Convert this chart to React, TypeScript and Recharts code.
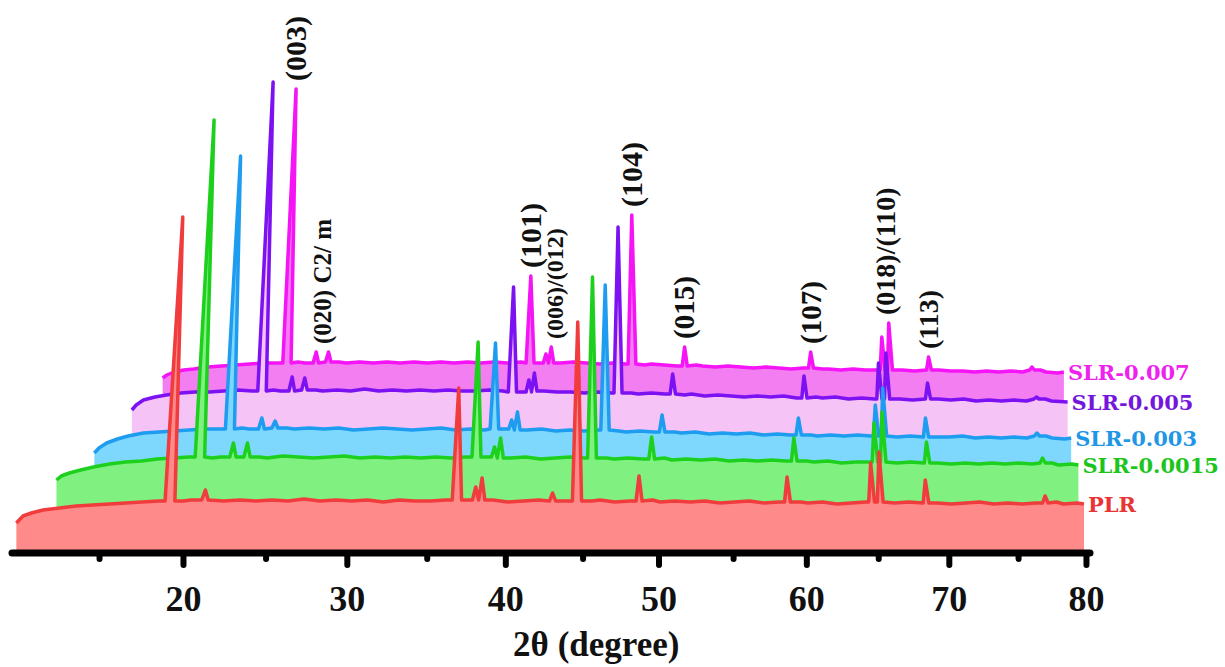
import React from 'react';
import { ComposedChart, Area, XAxis, YAxis, ReferenceDot } from 'recharts';

// ---------------- data (2θ in degrees, intensity in arbitrary units) ----------------
const TICKS_2THETA = [15, 20, 25, 30, 35, 40, 45, 50, 55, 60, 65, 70, 75, 80];
const TICK_LABELS = ['', '20', '', '30', '', '40', '', '50', '', '60', '', '70', '', '80'];
const X_TITLE = '2θ (degree)';

const SERIES_NAMES = ['PLR', 'SLR-0.0015', 'SLR-0.003', 'SLR-0.005', 'SLR-0.007'];

// background traces [2θ, I]
const PLR_BG = [[9.4,-20],[9.8,-13],[10.3,-10],[11,-7],[12,-5],[13,-3],[14,-2],[15,-1],[16,0],[17,1],[18,2],[19.5,2],[20,3],[22,2],[23,3],[24,2],[25,3],[26,2],[27,4],[28,2],[29,3],[30,2],[31,3],[32,1],[33,3],[34,2],[35,2],[36,3],[39,3],[40,1],[41,2],[42,3],[43.5,2],[45.5,2],[46,3],[47,1],[48,2],[49.5,3],[50,1],[51,2],[52,1],[53,2],[54,0],[55,1],[56,2],[57,0],[58,1],[59.5,1],[60,0],[61,1],[62,-1],[63,0],[64,1],[66,0],[67,1],[69,0],[70,-1],[71,0],[72,1],[73,-1],[74,0],[75,-1],[76,0],[77.5,1],[78,-1],[79,0],[79.5,-1]];
const SLR0015_BG = [[9.7,-22],[10,-18],[10.5,-15],[11.2,-12],[12,-9],[13,-6],[14,-4],[15,-3],[16,-1],[17,0],[18,1],[19.5,0],[20,1],[22.5,1],[23,0],[24,2],[25,1],[26,0],[27,1],[28,2],[29,0],[30,1],[31,0],[32,1],[33,0],[34,1],[35,0],[36,1],[37.3,1],[39,0],[40,1],[41,-1],[42,0],[43,1],[44,0],[45.5,0],[46,-1],[47,0],[48,-1],[49.5,0],[50,-2],[51,-1],[52,-2],[53,-1],[54,-3],[55,-2],[56,-3],[57,-2],[58,-3],[59.5,-3],[60,-4],[61,-3],[62,-5],[63,-4],[64,-4],[66,-5],[67,-4],[69,-5],[70,-6],[71,-5],[72,-6],[73,-5],[74,-6],[75,-5],[76,-6],[77.5,-5],[78,-7],[79,-6],[79.5,-7]];
const SLR003_BG = [[9.8,-24],[10.1,-19],[10.6,-14],[11.3,-10],[12,-7],[13,-4],[14,-3],[15,-2],[16,-1],[17,0],[18,0],[19.5,1],[20,0],[22.5,1],[23,0],[24,1],[25,0],[26,1],[27,-1],[28,0],[29,1],[30,0],[31,-1],[32,0],[33,1],[34,-1],[35,0],[36,-1],[37.3,0],[39,-1],[40,0],[41,-2],[42,-1],[43,-2],[44,-1],[45.5,-2],[46,-3],[47,-2],[48,-3],[49.5,-3],[50,-4],[51,-3],[52,-5],[53,-4],[54,-5],[55,-4],[56,-6],[57,-5],[58,-6],[59.5,-6],[60,-7],[61,-6],[62,-7],[63,-6],[64,-7],[66,-8],[67,-7],[69,-8],[70,-8],[71,-7],[72,-9],[73,-8],[74,-9],[75,-8],[76,-9],[77.5,-7],[78,-9],[79,-10],[79.5,-9]];
const SLR005_BG = [[9.6,-19],[9.9,-14],[10.4,-9],[11.2,-6],[12,-4],[13,-2],[14,-1],[15,-1],[16,0],[17,1],[18,0],[19.5,1],[20,0],[22.5,1],[23,0],[24,1],[25,0],[26,2],[27,0],[28,1],[29,0],[30,1],[31,0],[32,1],[33,0],[34,0],[35,1],[36,0],[37.3,-1],[39,0],[40,-1],[41,-1],[42,-2],[43,-1],[44,-2],[45.5,-2],[46,-3],[47,-2],[48,-3],[49.5,-4],[50,-3],[51,-5],[52,-4],[53,-5],[54,-6],[55,-5],[56,-6],[57,-5],[58,-7],[59.5,-6],[60,-7],[61,-6],[62,-8],[63,-7],[64,-8],[66,-8],[67,-9],[69,-8],[70,-9],[71,-8],[72,-10],[73,-9],[74,-10],[75,-9],[76,-10],[77.5,-8],[78,-10],[79.3,-11]];
const SLR007_BG = [[9.8,-15],[10.1,-12],[10.6,-9],[11.3,-7],[12,-6],[13,-4],[14,-3],[15,-2],[16,-1],[17,0],[18,0],[19.5,1],[20,0],[22.5,1],[23,0],[24,1],[25,0],[26,1],[27,0],[28,1],[29,0],[30,1],[31,0],[32,1],[33,0],[34,1],[35,0],[36,1],[37.3,0],[39,0],[40,1],[41,0],[42,-1],[43,0],[44,-1],[45.5,-2],[46,-1],[47,-2],[48,-3],[49.5,-2],[50,-3],[51,-4],[52,-3],[53,-4],[54,-5],[55,-4],[56,-5],[57,-6],[58,-5],[59.5,-6],[60,-6],[61,-7],[62,-6],[63,-7],[64,-7],[66,-7],[67,-8],[69,-7],[70,-8],[71,-8],[72,-9],[73,-8],[74,-9],[75,-8],[76,-9],[77.5,-7],[78,-9],[79,-10],[79.5,-9]];

// reflections [2θ, peak intensity]
const PLR_PEAKS = [[18.7,286],[20.85,13],[36.7,115],[37.9,16],[38.3,25],[42.9,10],[44.5,181],[48.6,27],[58.6,26],[64.4,40],[65.0,51],[68.2,23],[76.7,7]];
const SLR0015_PEAKS = [[18.7,338],[20.8,15],[21.7,15],[36.7,116],[37.9,11],[38.3,20],[44.5,181],[48.6,21],[58.6,20],[64.4,35],[65.0,46],[68.2,16],[76.8,0]];
const SLR003_PEAKS = [[18.7,273],[20.8,11],[21.7,8],[36.7,86],[37.9,9],[38.3,17],[44.5,144],[48.6,14],[58.6,11],[64.4,24],[65.0,41],[68.2,11],[76.8,-4]];
const SLR005_PEAKS = [[18.7,309],[20.8,14],[21.7,13],[36.7,104],[37.9,11],[38.3,18],[44.5,164],[48.6,17],[58.6,15],[64.4,28],[65.0,38],[68.2,8],[76.8,-6]];
const SLR007_PEAKS = [[18.7,274],[20.8,11],[21.7,11],[36.7,87],[37.9,9],[38.3,16],[44.5,148],[48.6,16],[58.6,11],[64.4,26],[65.0,40],[68.2,6],[76.8,-4]];

// hkl annotations [text, 2θ, font size]
const ANNOTATIONS: [string, number, number][] = [
  ['(003)', 18.7, 30],
  ['(020) C2/ m', 21.25, 25],
  ['(101)', 36.7, 30],
  ['(006)/(012)', 38.6, 24],
  ['(104)', 44.5, 30],
  ['(015)', 48.6, 29],
  ['(107)', 58.6, 29],
  ['(018)/(110)', 64.7, 28],
  ['(113)', 68.2, 28],
];

// ---------------- layout / style ----------------
const W = 1225;
const H = 667;
const PLOT_LEFT = 12;
const PLOT_RIGHT = 1090;
const AXIS_Y = 553;
const U_PER_PX = 1 / 15;
const U_MIN = 50 + (PLOT_LEFT - 659) * U_PER_PX;
const U_MAX = 50 + (PLOT_RIGHT - 659) * U_PER_PX;
const LEAN = 1e-4;
const LEAN_U0 = 47.4;

type Map = { a: number; b: number; c: number };
const AXIS_MAP: Map = { a: 50, b: 1.00333, c: -0.00178 };

const STYLES = [
  { offset: 50, map: { a: 50.073, b: 0.99967, c: -0.001413 }, line: '#f03c3c', fill: '#ff8a8a', text: '#e83434' },
  { offset: 95, map: { a: 50.86, b: 0.96067, c: -0.001425 }, line: '#1ed01e', fill: '#80f080', text: '#1cc51c' },
  { offset: 124, map: { a: 51.5, b: 0.92, c: -0.001336 }, line: '#1e9cf0', fill: '#7ed8fd', text: '#1f97e6' },
  { offset: 162, map: { a: 52.16, b: 0.88427, c: -0.000966 }, line: '#7c12f2', fill: '#f5c3f5', text: '#7416dc' },
  { offset: 190, map: { a: 52.907, b: 0.84987, c: -0.001133 }, line: '#f514f5', fill: '#f27ef2', text: '#ee22ee' },
];

const FONT = "'Liberation Serif', 'Times New Roman', serif";
const LABEL_FONT = "'DejaVu Serif', 'Liberation Serif', serif";

const BGS = [PLR_BG, SLR0015_BG, SLR003_BG, SLR005_BG, SLR007_BG];
const PEAKS = [PLR_PEAKS, SLR0015_PEAKS, SLR003_PEAKS, SLR005_PEAKS, SLR007_PEAKS];

function mapU(m: Map, theta: number) {
  const t = theta - 50;
  return m.a + m.b * t + m.c * t * t;
}

function project(m: Map, theta: number, h: number) {
  const base = mapU(m, theta);
  return base + LEAN * (LEAN_U0 - base) * Math.max(h, 0);
}

const hwOf = (I: number) => (I > 60 ? 0.3 : 0.2);

function buildSeries(bg: number[][], peaks: number[][], m: Map, offset: number) {
  const pts: number[][] = [];
  const inPeak = (th: number) => peaks.some(([c, I]) => Math.abs(th - c) <= hwOf(I));
  const nearestBg = (th: number) =>
    bg.reduce((best, p) => (Math.abs(p[0] - th) < Math.abs(best[0] - th) ? p : best))[1];
  bg.forEach(([th, I]) => {
    if (!inPeak(th)) pts.push([th, I, 0]);
  });
  peaks.forEach(([c, I]) => {
    const hw = hwOf(I);
    const b = nearestBg(c);
    pts.push([c - hw, b, 0]);
    pts.push([c, I, I - b]);
    pts.push([c + hw, b, 0]);
  });
  pts.sort((p, q) => p[0] - q[0]);
  return pts.map(([th, I, h]) => ({ x: project(m, th, h), y: offset + I }));
}

const SERIES_DATA = SERIES_NAMES.map((name, i) => ({
  name,
  data: buildSeries(BGS[i], PEAKS[i], STYLES[i].map, STYLES[i].offset),
  style: STYLES[i],
}));

const TICK_U = TICKS_2THETA.map((t) => mapU(AXIS_MAP, t));

const AxisTick = (props: any) => {
  const { x, y, payload } = props;
  let idx = 0;
  let best = Infinity;
  TICK_U.forEach((u, i) => {
    const d = Math.abs(u - payload.value);
    if (d < best) {
      best = d;
      idx = i;
    }
  });
  const label = TICK_LABELS[idx];
  const major = label !== '';
  return (
    <g>
      <line x1={x} x2={x} y1={y} y2={y + (major ? 12 : 6)} stroke="#000" strokeWidth={6} strokeLinecap="round" />
      {major && (
        <text x={x} y={y + 58} textAnchor="middle" fontFamily={FONT} fontWeight="bold" fontSize={36} fill="#111">
          {label}
        </text>
      )}
    </g>
  );
};

const AxisTitle = (props: any) => {
  const vb = props.viewBox || { x: PLOT_LEFT, y: AXIS_Y, width: PLOT_RIGHT - PLOT_LEFT };
  return (
    <text x={vb.x + vb.width * 0.542} y={vb.y + 103} textAnchor="middle" fontFamily={FONT} fontWeight="bold" fontSize={35} fill="#111">
      {X_TITLE}
    </text>
  );
};

export default function App() {
  const magenta = SERIES_DATA[4];
  const magPeaks = SLR007_PEAKS;
  const annotationPoints = ANNOTATIONS.map(([text, th, fs]) => {
    const near = magPeaks.filter(([c]) => Math.abs(c - th) < 0.8);
    const top = Math.max(...near.map(([, I]) => I));
    const bgI = SLR007_BG.reduce((b, p) => (Math.abs(p[0] - th) < Math.abs(b[0] - th) ? p : b))[1];
    const u = project(magenta.style.map, th, top - bgI);
    return { text, u, v: magenta.style.offset + top, fs };
  });

  return (
    <div style={{ position: 'absolute', left: 0, top: 0, width: W, height: H, background: '#fff' }}>
      <ComposedChart width={W} height={H} margin={{ top: 0, right: W - PLOT_RIGHT, bottom: 0, left: PLOT_LEFT }}>
        <XAxis
          type="number"
          dataKey="x"
          domain={[U_MIN, U_MAX]}
          ticks={TICK_U}
          interval={0}
          height={H - AXIS_Y}
          tickSize={0}
          tickMargin={0}
          tickLine={false}
          axisLine={{ stroke: '#000', strokeWidth: 7, strokeLinecap: 'round' }}
          tick={<AxisTick />}
          label={{ content: (p: any) => <AxisTitle {...p} /> }}
        />
        <YAxis type="number" domain={[0, AXIS_Y]} hide />
        {[...SERIES_DATA].reverse().map((s) => (
          <Area
            key={s.name}
            data={s.data}
            dataKey="y"
            type="linear"
            baseValue={0}
            stroke={s.style.line}
            strokeWidth={3.5}
            strokeLinejoin="round"
            fill={s.style.fill}
            fillOpacity={1}
            dot={false}
            activeDot={false}
            isAnimationActive={false}
          />
        ))}
        {SERIES_DATA.map((s) => {
          const last = s.data[s.data.length - 1];
          return (
            <ReferenceDot
              key={'lbl-' + s.name}
              x={last.x}
              y={last.y}
              r={0}
              ifOverflow="visible"
              shape={(p: any) => (
                <text x={p.cx + 4} y={p.cy} dy="0.36em" fontFamily={LABEL_FONT} fontWeight="bold" fontSize={21} fill={s.style.text}>
                  {s.name}
                </text>
              )}
            />
          );
        })}
        {annotationPoints.map((a) => (
          <ReferenceDot
            key={'ann-' + a.text}
            x={a.u}
            y={a.v}
            r={0}
            ifOverflow="visible"
            shape={(p: any) => (
              <text
                x={p.cx}
                y={p.cy - 8}
                dy="0.34em"
                transform={`rotate(-90, ${p.cx}, ${p.cy - 8})`}
                textAnchor="start"
                fontFamily={FONT}
                fontWeight="bold"
                fontSize={a.fs}
                fill="#111"
              >
                {a.text}
              </text>
            )}
          />
        ))}
      </ComposedChart>
    </div>
  );
}
